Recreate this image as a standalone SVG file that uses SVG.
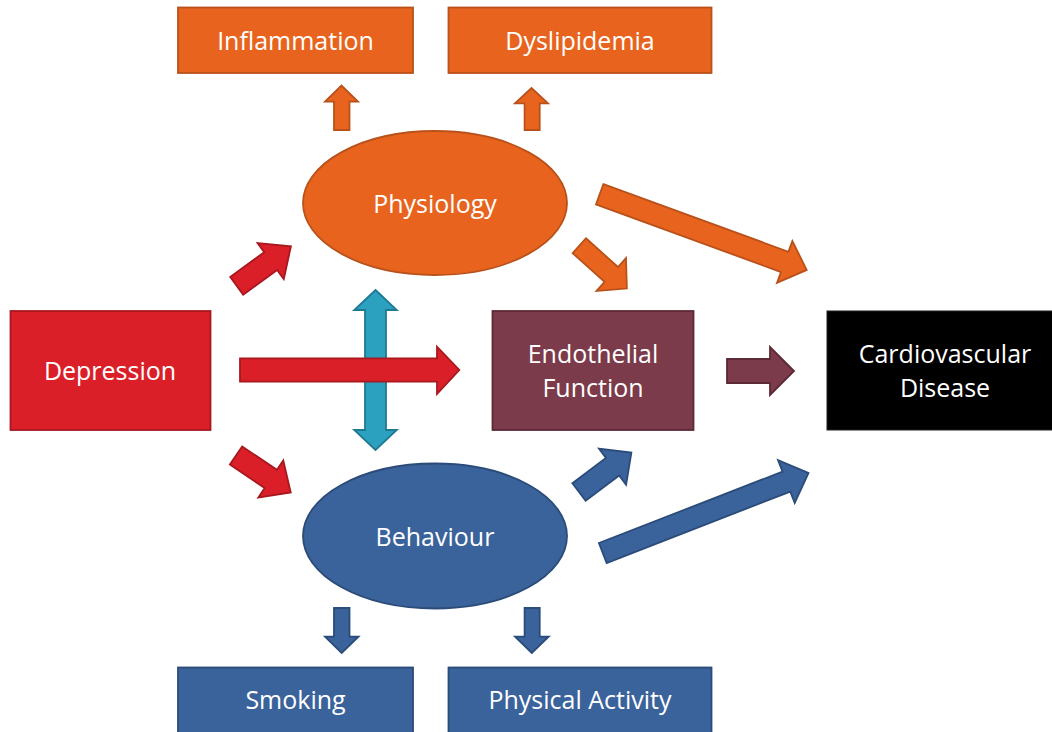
<svg xmlns="http://www.w3.org/2000/svg" width="1052" height="732" viewBox="0 0 1052 732">
<style>
text{font-family:"Open Sans","Liberation Sans",sans-serif;font-size:25px;fill:#fff;text-anchor:middle}
.or{fill:#E8641E;stroke:#B8511A;stroke-width:1.8}
.rd{fill:#DA1F29;stroke:#A7181F;stroke-width:1.8}
.bl{fill:#3A629B;stroke:#2B4B78;stroke-width:1.8}
.mr{fill:#7C3B4A;stroke:#5C2A36;stroke-width:1.8}
.tl{fill:#2BA1BF;stroke:#1E7A92;stroke-width:1.8}
.bk{fill:#000;stroke:#222;stroke-width:1}
</style>
<rect width="1052" height="732" fill="#fff"/>
<g id="connectors">
<path class="tl" d="M375.5,290 L396.8,310 H386 V430 H396.8 L375.5,450 L354.2,430 H365 V310 H354.2 Z"/>
<path class="rd" d="M240,358.3 H437 V346.7 L459.3,370 L437,394 V381.7 H240 Z"/>
<path class="rd" transform="translate(236.7,285.8) rotate(-36)" d="M0,-11 H42 V-22.3 L67,0 L42,22.3 V11 H0 Z"/>
<path class="rd" transform="translate(236,455.5) rotate(34)" d="M0,-11 H42 V-22.3 L66,0 L42,22.3 V11 H0 Z"/>
<path class="or" d="M334,130 V101.7 H325 L341.5,85.5 L358,101.7 H349.5 V130 Z"/>
<path class="or" d="M524.6,130 V103.3 H515 L531.5,88 L548,103.3 H539.7 V130 Z"/>
<path class="or" transform="translate(579.3,245.7) rotate(42)" d="M0,-10 H43 V-22 L64,0 L43,22 V10 H0 Z"/>
<path class="or" transform="translate(599.7,194.2) rotate(20.1)" d="M0,-10.8 H197 V-22.3 L220.4,0 L197,22.3 V10.8 H0 Z"/>
<path class="mr" d="M727,359 H770 V347 L794,371 L770,395 V383 H727 Z"/>
<path class="bl" transform="translate(579,492) rotate(-37)" d="M0,-11 H42 V-22.5 L65.6,0 L42,22.5 V11 H0 Z"/>
<path class="bl" transform="translate(602.8,553) rotate(-21.25)" d="M0,-10.7 H197 V-23 L220.7,0 L197,23 V10.7 H0 Z"/>
<path class="bl" d="M334,608 V636.7 H325 L341.7,653 L358.5,636.7 H349.5 V608 Z"/>
<path class="bl" d="M524.6,608 V636.7 H515 L531.8,653 L548.7,636.7 H539.7 V608 Z"/>
</g>
<g id="inflammation"><rect class="or" x="178" y="7.5" width="235" height="65.5"/><text x="295.5" y="50">Inflammation</text></g>
<g id="dyslipidemia"><rect class="or" x="448.5" y="7.5" width="263" height="65.5"/><text x="580" y="50">Dyslipidemia</text></g>
<g id="physiology"><ellipse class="or" cx="435" cy="203" rx="132" ry="72"/><text x="435" y="213">Physiology</text></g>
<g id="depression"><rect class="rd" x="10.5" y="311" width="200" height="119"/><text x="110" y="380">Depression</text></g>
<g id="endothelial"><rect class="mr" x="492.5" y="311" width="201" height="119"/><text x="593" y="363">Endothelial</text><text x="593" y="397">Function</text></g>
<g id="cvd"><rect class="bk" x="827" y="311" width="240" height="119"/><text x="945" y="363">Cardiovascular</text><text x="945" y="397">Disease</text></g>
<g id="behaviour"><ellipse class="bl" cx="435" cy="536" rx="132" ry="72.5"/><text x="435" y="546">Behaviour</text></g>
<g id="smoking"><rect class="bl" x="178" y="667.5" width="235" height="70"/><text x="295.5" y="709">Smoking</text></g>
<g id="physical-activity"><rect class="bl" x="448.5" y="667.5" width="263" height="70"/><text x="580" y="709">Physical Activity</text></g>
</svg>
